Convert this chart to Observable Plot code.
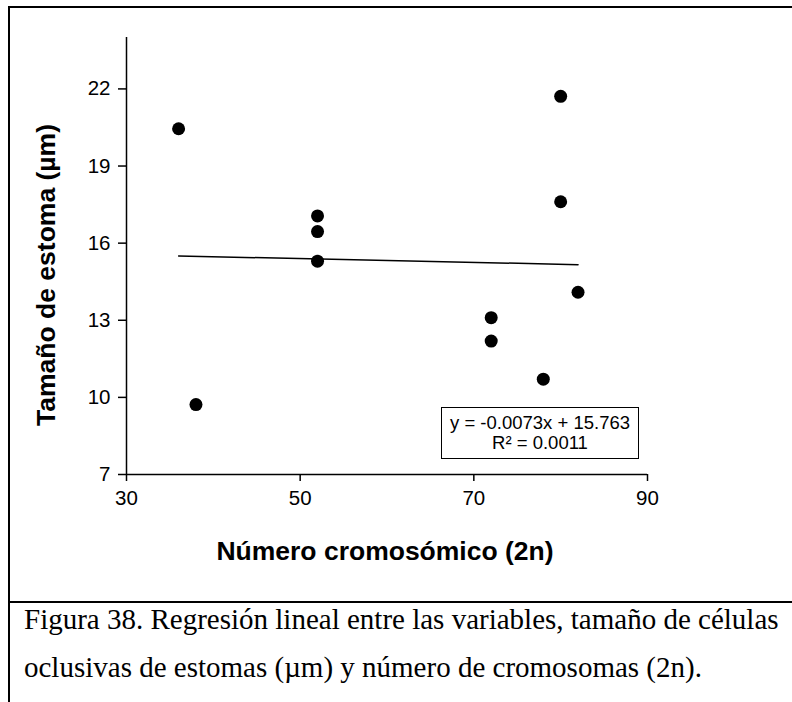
<!DOCTYPE html>
<html>
<head>
<meta charset="utf-8">
<script src="https://cdn.jsdelivr.net/npm/d3@7"></script>
<script src="https://cdn.jsdelivr.net/npm/@observablehq/plot@0.6"></script>
<style>
  html, body { margin: 0; padding: 0; background: #fff; width: 792px; height: 702px; overflow: hidden; }
  #frame { position: absolute; left: 8px; top: 6px; width: 800px; height: 720px; border-top: 2px solid #000; border-left: 2px solid #000; }
  #chart { position: absolute; left: 0; top: 0; }
  #chart svg { background: none !important; }
  #sep { position: absolute; left: 8px; top: 601px; width: 800px; border-top: 2px solid #000; }
  #caption { position: absolute; left: 24px; top: 595px; font-family: "Liberation Serif", "Times New Roman", serif; font-size: 29px; line-height: 48px; color: #000; white-space: nowrap; }
  #eq { position: absolute; left: 441px; top: 407px; width: 198px; height: 52px; border: 1.5px solid #000; box-sizing: border-box; font-family: "Liberation Sans", Arial, sans-serif; font-size: 18.5px; line-height: 20px; text-align: center; padding-top: 5px; color: #000; }
</style>
</head>
<body>
<div id="frame"></div>
<div id="chart"></div>
<div id="sep"></div>
<div id="eq"></div>
<div id="caption"></div>
<script>
// ---- data ----
const chromosomes = [36, 38, 52, 52, 52, 72, 72, 78, 80, 80, 82];
const stomaSize   = [20.45, 9.72, 17.06, 16.45, 15.30, 13.10, 12.19, 10.71, 21.71, 17.61, 14.09];
const xTicks = [30, 50, 70, 90];
const yTicks = [7, 10, 13, 16, 19, 22];
const xDomain = [30, 90];
const yDomain = [7, 24];
const slope = -0.0073;
const intercept = 15.763;
const rSquared = "0.0011";
const xTitle = "Número cromosómico (2n)";
const yTitle = "Tamaño de estoma (µm)";
const equationLines = ["y = -0.0073x + 15.763", "R² = " + rSquared];
const captionLines = [
  "Figura 38. Regresión lineal entre las variables, tamaño de células",
  "oclusivas de estomas (µm) y número de cromosomas (2n)."
];

// ---- derived tables ----
const points = chromosomes.map((x, i) => ({x, y: stomaSize[i]}));
const trend = d3.extent(chromosomes).map(x => ({x, y: intercept + slope * x}));

const font = '"Liberation Sans", Arial, sans-serif';

const plot = Plot.plot({
  width: 792,
  height: 600,
  marginLeft: 126,
  marginRight: 145,
  marginTop: 37,
  marginBottom: 126,
  style: { fontFamily: font, fontSize: "20px", color: "#000", background: "none", overflow: "visible" },
  x: { domain: xDomain },
  y: { domain: yDomain },
  marks: [
    Plot.axisY(yTicks, { tickSize: 8, tickPadding: 8, label: null, fontSize: 20.5, strokeWidth: 1.5 }),
    Plot.axisX(xTicks, { tickSize: 7, tickPadding: 9, label: null, fontSize: 20.5, strokeWidth: 1.5 }),
    Plot.ruleX([xDomain[0]], { stroke: "#000", strokeWidth: 1.5 }),
    Plot.ruleY([yDomain[0]], { stroke: "#000", strokeWidth: 1.5 }),
    Plot.line(trend, { x: "x", y: "y", stroke: "#000", strokeWidth: 1.5 }),
    Plot.dot(points, { x: "x", y: "y", r: 6.5, fill: "#000", stroke: "none" }),
    Plot.text([xTitle], { text: d => d, frameAnchor: "bottom", dx: -2, dy: 77, lineAnchor: "middle",
      textAnchor: "middle", fontSize: 26.5, fontWeight: "bold", fill: "#000" }),
    Plot.text([yTitle], { text: d => d, frameAnchor: "left", rotate: -90, dx: -80, dy: 19, lineAnchor: "middle",
      textAnchor: "middle", fontSize: 26.5, fontWeight: "bold", fill: "#000" })
  ]
});
document.getElementById("chart").appendChild(plot);

document.getElementById("eq").innerHTML = equationLines.map(s => `<div>${s}</div>`).join("");
document.getElementById("caption").innerHTML = captionLines.map(s => `<div>${s}</div>`).join("");
</script>
</body>
</html>
